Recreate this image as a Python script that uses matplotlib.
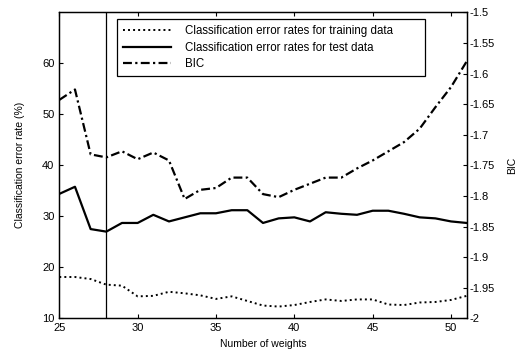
import numpy as np
import matplotlib
matplotlib.use('Agg')
import matplotlib.pyplot as plt

plt.rcParams['font.family'] = ['Liberation Sans', 'DejaVu Sans']

# number of weights
weights = list(range(25, 52))

# classification error rates (%)
train_err = [18.1, 18.1, 17.7, 16.6, 16.4, 14.3, 14.4, 15.2, 14.9, 14.5,
             13.8, 14.3, 13.4, 12.5, 12.3, 12.6, 13.2, 13.7, 13.4, 13.7,
             13.7, 12.7, 12.6, 13.1, 13.2, 13.6, 14.4]
test_err = [34.4, 35.8, 27.5, 27.0, 28.7, 28.7, 30.3, 29.0, 29.8, 30.6,
            30.6, 31.2, 31.2, 28.7, 29.6, 29.8, 29.0, 30.8, 30.5, 30.3,
            31.1, 31.1, 30.5, 29.8, 29.6, 29.0, 28.7]

# BIC values (right axis)
bic = [-1.643, -1.626, -1.732, -1.737, -1.727, -1.740, -1.729, -1.742, -1.805, -1.790,
       -1.787, -1.770, -1.770, -1.797, -1.802, -1.790, -1.780, -1.770, -1.770, -1.755,
       -1.742, -1.727, -1.712, -1.690, -1.655, -1.622, -1.580]

selected = 28

left_ticks = [10, 20, 30, 40, 50, 60]
right_ticks = [-2, -1.95, -1.9, -1.85, -1.8, -1.75, -1.7, -1.65, -1.6, -1.55, -1.5]
right_labels = ['-2', '-1.95', '-1.9', '-1.85', '-1.8', '-1.75', '-1.7', '-1.65', '-1.6', '-1.55', '-1.5']
x_ticks = [25, 30, 35, 40, 45, 50]

fig = plt.figure(figsize=(5.17, 3.59), dpi=100)
ax = fig.add_axes([0.1147, 0.1134, 0.788, 0.852])
ax2 = ax.twinx()

l1, = ax.plot(weights, train_err, color='black', lw=1.4, linestyle=(0, (1, 1.6)))
l2, = ax.plot(weights, test_err, color='black', lw=1.6, linestyle='-')
l3, = ax2.plot(weights, bic, color='black', lw=1.6, linestyle=(0, (4, 1.5, 1, 1.5)))
ax.axvline(selected, color='black', lw=0.9)

ax.set_xlim(25, 51)
ax.set_ylim(10, 70)
ax2.set_ylim(-2, -1.5)
ax.set_xticks(x_ticks)
ax.set_yticks(left_ticks)
ax2.set_yticks(right_ticks)
ax2.set_yticklabels(right_labels)

ax.tick_params(axis='both', direction='in', length=3, labelsize=8, width=0.8,
               top=True, right=False)
ax2.tick_params(axis='y', direction='in', length=3, labelsize=8, width=0.8, pad=2)
for sp in list(ax.spines.values()) + list(ax2.spines.values()):
    sp.set_linewidth(0.9)

ax.set_xlabel('Number of weights', fontsize=7.5, labelpad=4)
ax.set_ylabel('Classification error rate (%)', fontsize=7.5, labelpad=12)
ax2.set_ylabel('BIC', fontsize=7.5, labelpad=9)

leg = ax2.legend([l1, l2, l3],
                 ['Classification error rates for training data',
                  'Classification error rates for test data',
                  'BIC'],
                 loc='upper left', bbox_to_anchor=(0.1416, 0.795, 0.755, 0.182),
                 mode='expand', borderaxespad=0,
                 fontsize=8.3, handlelength=4.2, handletextpad=1.2, labelspacing=0.4,
                 fancybox=False, framealpha=1, edgecolor='black', borderpad=0.5)
leg.get_frame().set_linewidth(0.9)

plt.savefig('out.png', dpi=100)
